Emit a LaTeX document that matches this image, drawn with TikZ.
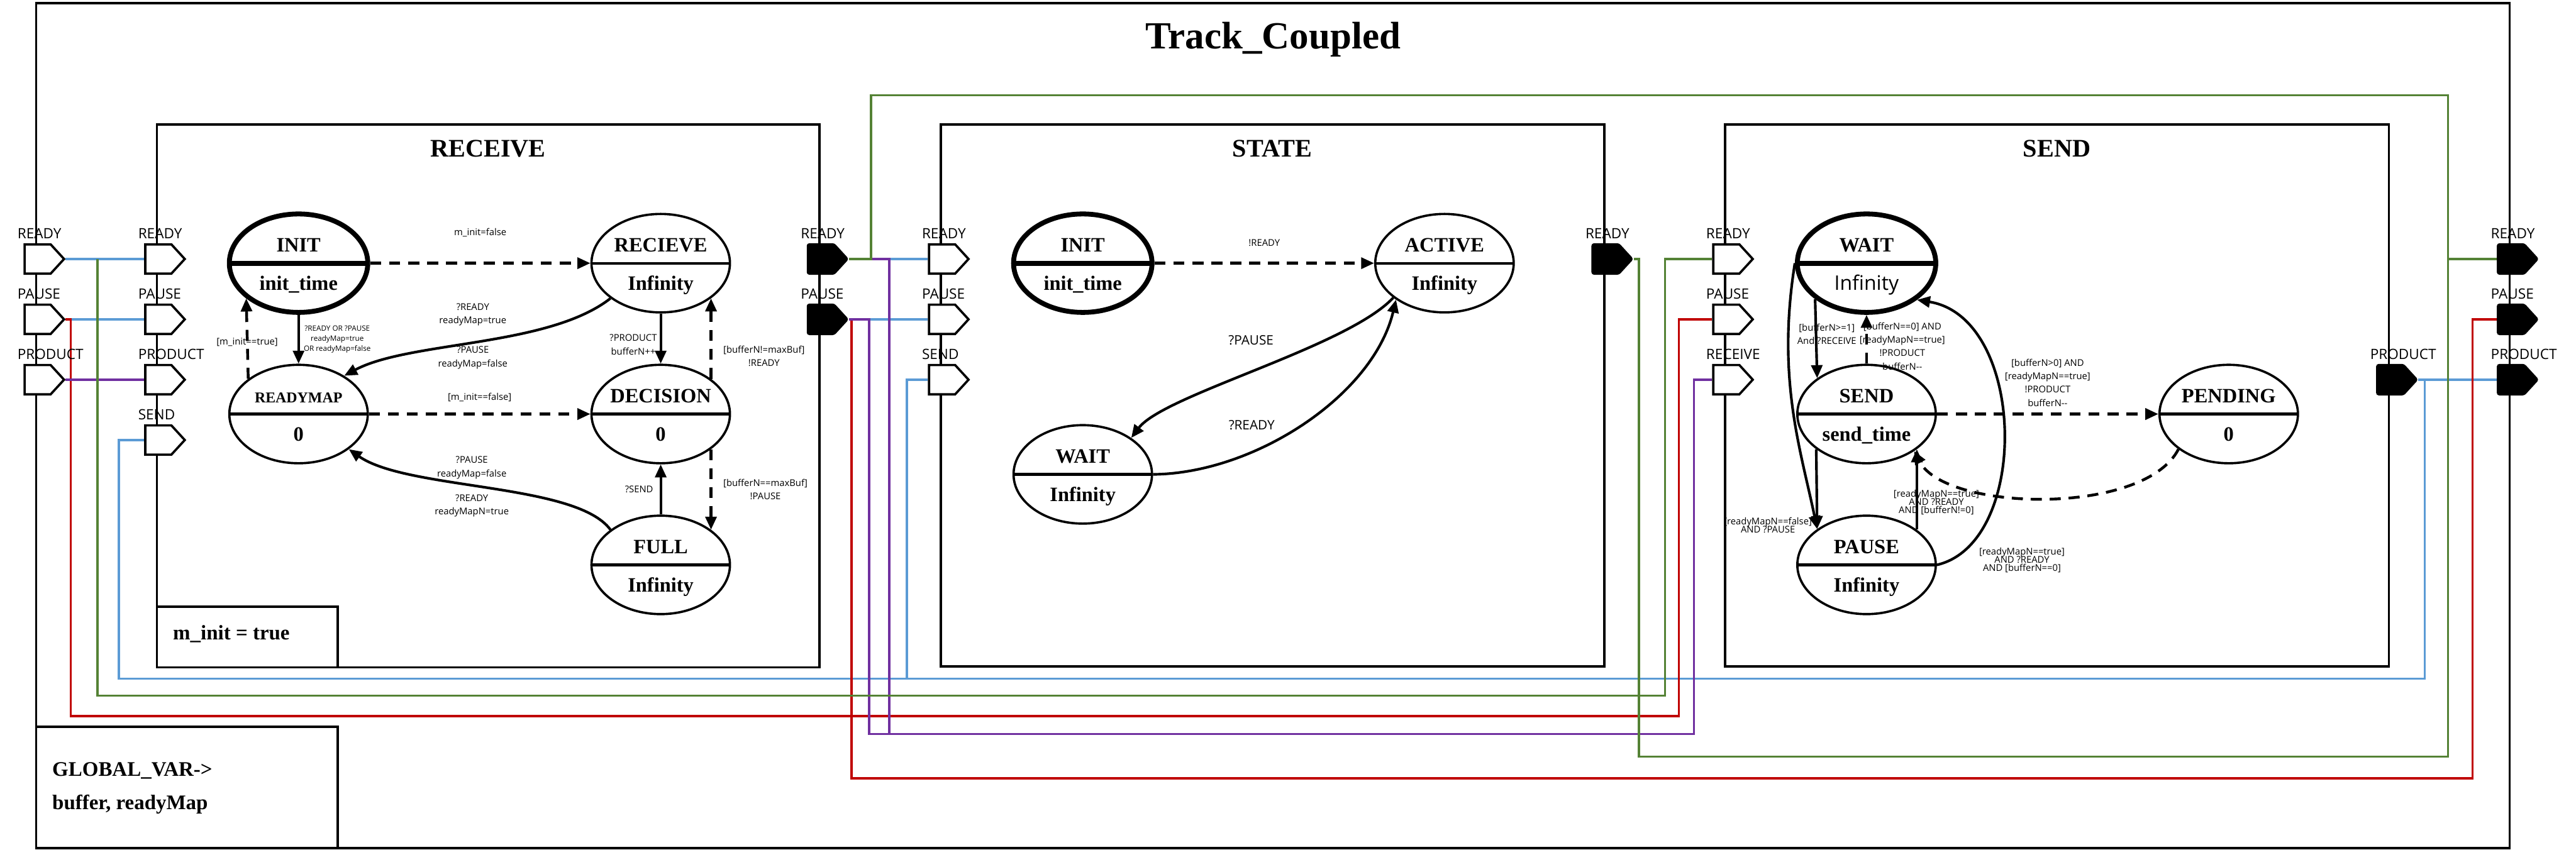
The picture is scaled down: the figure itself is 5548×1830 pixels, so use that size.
\documentclass[tikz,border=0pt]{standalone}
\usepackage{fontspec}
\setmainfont{Liberation Serif}
\newfontfamily\sansf{Open Sans}
\usepackage{tikz}
\usetikzlibrary{arrows.meta, positioning, shapes.geometric, shapes.symbols, backgrounds}
\definecolor{wireblue}{HTML}{5B9BD5}
\definecolor{wiregreen}{HTML}{548235}
\definecolor{wirered}{HTML}{C00000}
\definecolor{wirepurple}{HTML}{7030A0}
\newcommand{\tightlines}{\lineskiplimit=-10pt\relax}
\tikzstyle{arrow} = [line width=1.6pt, -{Triangle[length=0.28cm, width=0.24cm]}]
\tikzstyle{dashedarrow} = [arrow, line width=1.7pt, dash pattern=on 6.8pt off 4.8pt]

\begin{document}
\begin{tikzpicture}[
    x=0.01cm, y=-0.01cm,
    module/.style={draw, line width=1.4pt},
    boxtitle/.style={anchor=base, inner sep=0pt, font=\bfseries\fontsize{15.5}{18}\selectfont},
    vartext/.style={anchor=base west, inner sep=0pt, font=\bfseries\fontsize{12.7}{15}\selectfont},
    state/.style={
        ellipse, draw, fill=white, line width=1.4pt,
        minimum width=2.98cm, minimum height=2.12cm, inner sep=0pt,
        path picture={\draw[line width=1.6pt] (path picture bounding box.west) -- (path picture bounding box.east);}
    },
    initstate/.style={
        state, line width=3pt,
        path picture={\draw[line width=3pt] (path picture bounding box.west) -- (path picture bounding box.east);}
    },
    statetext/.style={anchor=base, inner sep=0pt, font=\bfseries\fontsize{12.5}{14}\selectfont},
    inport/.style={
        signal, signal to=east, signal pointer angle=95, draw, line width=1.4pt,
        fill=white, minimum width=0.85cm, minimum height=0.63cm, inner sep=0pt
    },
    outport/.style={inport, fill=black, rounded corners=1pt},
    portlabel/.style={anchor=base west, inner sep=0pt, font=\sansf\fontsize{8.7}{10}\selectfont},
    lbl/.style={align=center, inner sep=1pt, font=\sansf\fontsize{5.7}{8.2}\selectfont},
    tightlbl/.style={lbl, font=\sansf\fontsize{5.7}{4.9}\selectfont\tightlines},
    smalllbl/.style={lbl, font=\sansf\fontsize{4.5}{6.3}\selectfont},
    biglbl/.style={lbl, font=\sansf\fontsize{8}{10}\selectfont},
    wire/.style={line width=1.3pt}
]
\useasboundingbox (0,0) rectangle (5548,1830);

% frames
\draw[module] (78,7) rectangle (5405,1827);
\draw[module] (338,268) rectangle (1765,1438);
\draw[module] (2026,268) rectangle (3455,1436);
\draw[module] (3715,268) rectangle (5145,1436);
\draw[module] (338,1307) rectangle (727,1438);
\draw[module] (78,1566) rectangle (727,1827);

\node[anchor=base, font=\bfseries\fontsize{23.5}{28}\selectfont] (title) at (2742,105) {Track\_Coupled};
\node[boxtitle] (receive-title) at (1051,338) {RECEIVE};
\node[boxtitle] (state-title) at (2740,338) {STATE};
\node[boxtitle] (send-title) at (4430,338) {SEND};
\node[vartext] (minit) at (372,1378) {m\_init = true};
\node[vartext] (globalvar) at (112,1672) {GLOBAL\_VAR->};
\node[vartext] (globallist) at (112,1744) {buffer, readyMap};

% states
\foreach \n/\x/\y/\sname/\sval/\st in {
    r-init/643/567/INIT/init\_time/initstate,
    r-rec/1423/567/RECIEVE/Infinity/state,
    r-rmap/643/892/{\fontsize{9.2}{11}\selectfont READYMAP}/0/state,
    r-dec/1423/892/DECISION/0/state,
    r-full/1423/1217/FULL/Infinity/state,
    s-init/2332/567/INIT/init\_time/initstate,
    s-act/3111/567/ACTIVE/Infinity/state,
    s-wait/2332/1022/WAIT/Infinity/state,
    d-wait/4020/567/WAIT/{\sansf\mdseries\fontsize{12.3}{14}\selectfont Infinity}/initstate,
    d-send/4020/892/SEND/send\_time/state,
    d-pause/4020/1217/PAUSE/Infinity/state,
    d-pend/4800/892/PENDING/0/state}
{
    \node[\st] (\n) at (\x,\y) {};
    \node[statetext] at ([yshift=0.25cm]\n.center) {\sname};
    \node[statetext] at ([yshift=-0.58cm]\n.center) {\sval};
}

% RECEIVE transitions
\draw[dashedarrow] (r-init.east) -- node[lbl, above=0.5cm] {m\_init=false} (r-rec.west);
\draw[arrow] (r-init.south) -- node[smalllbl, right=0.05cm] {?READY OR ?PAUSE\\readyMap=true\\OR readyMap=false} (r-rmap.north);
\draw[dashedarrow] (r-rmap.145.7) -- node[lbl, yshift=-0.08cm] {[m\_init==true]} (r-init.214.3);
\draw[arrow] (r-rec.215.6) .. controls +(-134,105) and +(140,-75) .. (r-rmap.40)
    node[lbl, pos=0.5, xshift=-0.12cm, yshift=0.6cm] {?READY\\readyMap=true}
    node[lbl, pos=0.5, xshift=-0.12cm, yshift=-0.33cm] {?PAUSE\\readyMap=false};
\draw[arrow] (r-rec.south) -- node[lbl, left=0.02cm, yshift=-0.13cm] {?PRODUCT\\bufferN++} (r-dec.north);
\draw[dashedarrow] (r-dec.35.4) -- node[lbl, pos=0.28, right=0.2cm] {[bufferN!=maxBuf]\\!READY} (r-rec.-35.4);
\draw[dashedarrow] (r-rmap.east) -- node[lbl, above=0.2cm] {[m\_init==false]} (r-dec.west);
\draw[dashedarrow] (r-dec.-35.4) -- node[lbl, right=0.2cm] {[bufferN==maxBuf]\\!PAUSE} (r-full.35.4);
\draw[arrow] (r-full.north) -- node[lbl, left=0.1cm] {?SEND} (r-dec.south);
\draw[arrow] (r-full.145) .. controls +(-74,-101) and +(125,88) .. (r-rmap.-35.5)
    node[lbl, pos=0.5, xshift=-0.36cm, yshift=0.42cm] {?PAUSE\\readyMap=false}
    node[lbl, pos=0.5, xshift=-0.36cm, yshift=-0.4cm] {?READY\\readyMapN=true};

% STATE transitions
\draw[dashedarrow] (s-init.east) -- node[lbl, above=0.3cm] {!READY} (s-act.west);
\draw[arrow] (s-act.214.3) .. controls +(-100,107) and +(70,-93) .. (s-wait.37)
    node[biglbl, pos=0.5, xshift=-0.13cm, yshift=0.64cm] {?PAUSE};
\draw[arrow] (s-wait.east) .. controls +(219,-2) and +(-49,206) .. (s-act.217)
    node[biglbl, pos=0.5, xshift=-1.13cm, yshift=-0.06cm] {?READY};

% SEND transitions
\draw[arrow] (d-wait.215.4) -- node[lbl, xshift=0.23cm, yshift=0.1cm] {[bufferN>=1]\\And ?RECEIVE} (d-send.144.6);
\draw[dashedarrow] (d-send.north) -- node[lbl, xshift=0.77cm, yshift=-0.15cm] {[bufferN==0] AND\\{}[readyMapN==true]\\!PRODUCT\\bufferN-{}-} (d-wait.south);
\draw[arrow] (d-send.215.4) -- node[tightlbl, pos=0.95, left=0.05cm] {[readyMapN==false]\\AND ?PAUSE} (d-pause.144.6);
\draw[arrow] (d-wait.west) .. controls +(-40,250) and +(-35,-170) .. (d-pause.144.6);
\draw[arrow] (d-pause.35.4) -- node[tightlbl, xshift=0.42cm, yshift=-0.28cm] {[readyMapN==true]\\AND ?READY\\AND [bufferN!=0]} (d-send.-35.4);
\draw[dashedarrow] (d-send.east) -- node[lbl, above=0.1cm] {[bufferN>0] AND\\{}[readyMapN==true]\\!PRODUCT\\bufferN-{}-} (d-pend.west);
\draw[dashedarrow] (d-pend.215) .. controls +(-74,144) and +(70,130) .. (d-send.-38);
\draw[arrow] (d-pause.east) .. controls +(202,-47) and +(236,38) .. (d-wait.-36)
    node[tightlbl, pos=0, xshift=1.83cm, yshift=0.1cm] {[readyMapN==true]\\AND ?READY\\AND [bufferN==0]};

% ports
\foreach \n/\x/\y/\lab/\st in {
    oL-ready/81/558/READY/inport, oL-pause/81/688/PAUSE/inport, oL-product/81/818/PRODUCT/inport,
    r-in-ready/341/558/READY/inport, r-in-pause/341/688/PAUSE/inport,
    r-in-product/341/818/PRODUCT/inport, r-in-send/341/948/SEND/inport,
    r-out-ready/1768/558/READY/outport, r-out-pause/1768/688/PAUSE/outport,
    s-in-ready/2029/558/READY/inport, s-in-pause/2029/688/PAUSE/inport, s-in-send/2029/818/SEND/inport,
    s-out-ready/3458/558/READY/outport,
    d-in-ready/3718/558/READY/inport, d-in-pause/3718/688/PAUSE/inport, d-in-receive/3718/818/RECEIVE/inport,
    d-out-product/5148/818/PRODUCT/outport,
    oR-ready/5408/558/READY/outport, oR-pause/5408/688/PAUSE/outport, oR-product/5408/818/PRODUCT/outport}
{
    \node[\st] (\n) at (\x,\y) {};
    \node[portlabel] at ([xshift=-0.44cm, yshift=0.445cm]\n.center) {\lab};
}

% couplings
\coordinate (tap-ready) at (210,558);
\coordinate (tap-product) at (5222,818);
\coordinate (tap-send) at (1953,1462);
\coordinate (tap-purple) at (1915,1581);
\coordinate (tap-green) at (5272,558);
\begin{pgfonlayer}{background}
    \draw[wire, wireblue] (oL-ready.east) -- (r-in-ready.west);
    \draw[wire, wireblue] (oL-pause.east) -- (r-in-pause.west);
    \draw[wire, wireblue] (r-out-ready.east) -- (s-in-ready.west);
    \draw[wire, wireblue] (r-out-pause.east) -- (s-in-pause.west);
    \draw[wire, wireblue] (d-out-product.east) -- (oR-product.west);
    \draw[wire, wireblue] (r-in-send.west) -| (256,1462) -| (tap-product);
    \draw[wire, wireblue] (s-in-send.west) -| (tap-send);

    \draw[wire, wirered] (oL-pause.east) -| (152,1543) -| (3616,688) -- (d-in-pause.west);
    \draw[wire, wirered] (r-out-pause.east) -| (1834,1677) -| (5325,688) -- (oR-pause.west);

    \draw[wire, wirepurple] (oL-product.east) -- (r-in-product.west);
    \draw[wire, wirepurple] (r-out-pause.east) -| (1872,1581) -| (3648,818) -- (d-in-receive.west);
    \draw[wire, wirepurple] (r-out-ready.east) -| (tap-purple);

    \draw[wire, wiregreen] (tap-ready) |- (3586,1499) |- (d-in-ready.west);
    \draw[wire, wiregreen] (r-out-ready.east) -| (1876,205) -| (tap-green) -- (oR-ready.west);
    \draw[wire, wiregreen] (s-out-ready.east) -| (3530,1630) -| (tap-green);
\end{pgfonlayer}
\end{tikzpicture}
\end{document}
